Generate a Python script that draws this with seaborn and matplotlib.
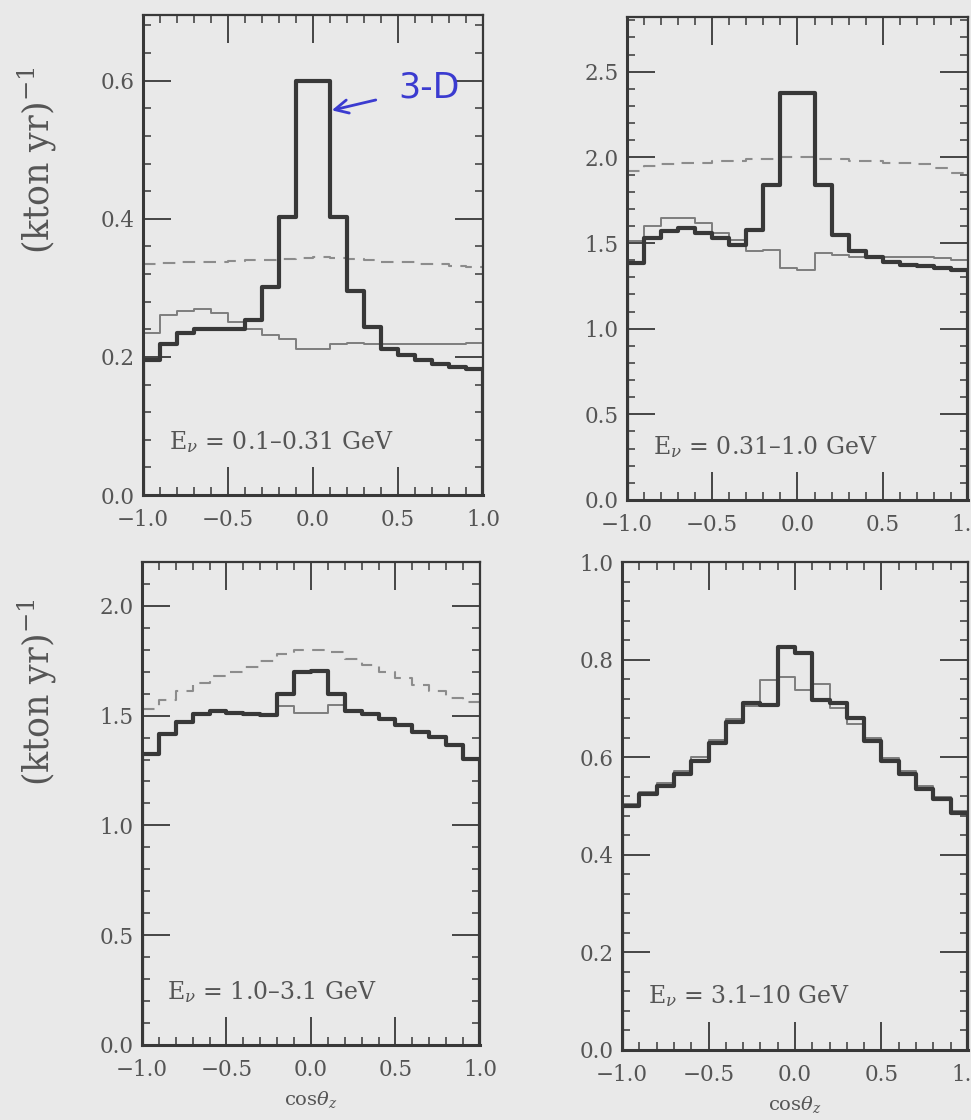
import numpy as np
import pandas as pd
import matplotlib
matplotlib.use("Agg")
import matplotlib.pyplot as plt
import seaborn as sns
from matplotlib.ticker import MultipleLocator, FuncFormatter

# ---------------- data (20 bins in cos theta_z from -1 to 1) ----------------
n_bins = 20
bin_edges = np.round(np.linspace(-1.0, 1.0, n_bins + 1), 2)
bin_centers = (bin_edges[:-1] + bin_edges[1:]) / 2

# Panel 1: E = 0.1-0.31 GeV
p1_thick = [0.196, 0.219, 0.234, 0.240, 0.240, 0.240, 0.253, 0.301, 0.402, 0.600,
            0.600, 0.402, 0.296, 0.244, 0.212, 0.203, 0.196, 0.190, 0.186, 0.183]
p1_thin = [0.234, 0.260, 0.267, 0.270, 0.264, 0.251, 0.240, 0.231, 0.226, 0.212,
           0.212, 0.219, 0.220, 0.219, 0.218, 0.218, 0.218, 0.219, 0.219, 0.220]
p1_dash = [0.334, 0.336, 0.337, 0.338, 0.338, 0.339, 0.340, 0.341, 0.342, 0.343,
           0.344, 0.343, 0.342, 0.340, 0.338, 0.337, 0.335, 0.334, 0.332, 0.330]

# Panel 2: E = 0.31-1.0 GeV
p2_thick = [1.383, 1.529, 1.568, 1.587, 1.558, 1.529, 1.490, 1.578, 1.840, 2.375,
            2.375, 1.840, 1.548, 1.451, 1.421, 1.392, 1.373, 1.363, 1.353, 1.344]
p2_thin = [1.509, 1.597, 1.646, 1.646, 1.617, 1.558, 1.519, 1.451, 1.460, 1.353,
           1.344, 1.441, 1.431, 1.421, 1.421, 1.421, 1.421, 1.421, 1.412, 1.402]
p2_dash = [1.92, 1.95, 1.96, 1.97, 1.97, 1.98, 1.98, 1.99, 1.99, 2.00,
           2.00, 1.99, 1.99, 1.98, 1.98, 1.97, 1.97, 1.96, 1.94, 1.91]

# Panel 3: E = 1.0-3.1 GeV
p3_thick = [1.326, 1.417, 1.470, 1.508, 1.520, 1.511, 1.508, 1.505, 1.598, 1.697,
            1.705, 1.598, 1.520, 1.508, 1.485, 1.455, 1.424, 1.402, 1.364, 1.303]
p3_thin = [1.330, 1.420, 1.475, 1.512, 1.524, 1.515, 1.512, 1.508, 1.545, 1.510,
           1.510, 1.550, 1.524, 1.512, 1.490, 1.460, 1.430, 1.408, 1.370, 1.308]
p3_dash = [1.53, 1.57, 1.61, 1.65, 1.68, 1.70, 1.72, 1.75, 1.78, 1.80,
           1.80, 1.79, 1.76, 1.73, 1.70, 1.67, 1.64, 1.61, 1.58, 1.56]

# Panel 4: E = 3.1-10 GeV
p4_thick = [0.500, 0.524, 0.541, 0.565, 0.592, 0.629, 0.673, 0.711, 0.707, 0.826,
            0.813, 0.718, 0.711, 0.680, 0.633, 0.592, 0.565, 0.534, 0.514, 0.486]
p4_thin = [0.505, 0.528, 0.548, 0.572, 0.600, 0.636, 0.678, 0.704, 0.759, 0.765,
           0.737, 0.750, 0.700, 0.668, 0.640, 0.598, 0.572, 0.540, 0.518, 0.490]

panel_labels = [r"E$_\nu$ = 0.1–0.31 GeV", r"E$_\nu$ = 0.31–1.0 GeV",
                r"E$_\nu$ = 1.0–3.1 GeV", r"E$_\nu$ = 3.1–10 GeV"]
y_label = r"(kton yr)$^{-1}$"
x_label = r"cos$\theta_z$"
xtick_values = [-1.0, -0.5, 0.0, 0.5, 1.0]

# ---------------- style ----------------
sns.set_theme(style="ticks")
plt.rcParams["font.family"] = ["DejaVu Serif", "DejaVu Sans"]
plt.rcParams["mathtext.fontset"] = "dejavuserif"
plt.rcParams["axes.unicode_minus"] = True

BG = "#e9e9e9"
INK = "#383838"
TXT = "#555555"
THIN = "#7e7e7e"
DASH = "#8c8c8c"

fig = plt.figure(figsize=(9.71, 11.2), dpi=100)
fig.patch.set_facecolor(BG)

positions = [
    [0.1473, 0.5580, 0.3502, 0.4286],
    [0.6457, 0.5536, 0.3512, 0.4313],
    [0.1462, 0.0670, 0.3481, 0.4313],
    [0.6406, 0.0625, 0.3563, 0.4357],
]
ylims = [0.695, 2.82, 2.2, 1.0]
ymajor = [0.2, 0.5, 0.5, 0.2]
yminor = [0.04, 0.1, 0.1, 0.04]

series = [
    (p1_thick, p1_thin, p1_dash),
    (p2_thick, p2_thin, p2_dash),
    (p3_thick, p3_thin, p3_dash),
    (p4_thick, p4_thin, None),
]

fmt = FuncFormatter(lambda v, p: f"{v:.1f}".replace("-", "\u2212"))


def step_hist(ax, values, **kws):
    df = pd.DataFrame({"cos": bin_centers, "w": np.asarray(values, dtype=float)})
    sns.histplot(data=df, x="cos", weights="w", bins=n_bins, binrange=(-1.0, 1.0),
                 element="step", fill=False, ax=ax, **kws)


axes = []
for i, pos in enumerate(positions):
    ax = fig.add_axes(pos)
    ax.set_facecolor(BG)
    thick, thin, dash = series[i]
    if dash is not None:
        step_hist(ax, dash, color=DASH, linewidth=1.5, linestyle=(0, (6, 4)))
    step_hist(ax, thin, color=THIN, linewidth=1.4)
    step_hist(ax, thick, color=INK, linewidth=3.0)
    # vertical drops of the thick histogram at both ends
    ax.vlines([bin_edges[0], bin_edges[-1]], 0, [thick[0], thick[-1]],
              color=INK, linewidth=3.0)

    ax.set_xlim(-1.0, 1.0)
    ax.set_ylim(0, ylims[i])
    ax.set_xticks(xtick_values)
    ax.xaxis.set_minor_locator(MultipleLocator(0.1))
    ax.yaxis.set_major_locator(MultipleLocator(ymajor[i]))
    ax.yaxis.set_minor_locator(MultipleLocator(yminor[i]))
    ax.xaxis.set_major_formatter(fmt)
    ax.yaxis.set_major_formatter(fmt)
    ax.tick_params(which="major", direction="in", length=20, width=1.3,
                   top=True, right=True, labelsize=15.5, labelcolor=TXT,
                   color=INK, pad=6)
    ax.tick_params(axis="x", which="major", pad=10)
    ax.tick_params(which="minor", direction="in", length=6, width=1.1,
                   top=True, right=True, color=INK)
    for side, sp in ax.spines.items():
        sp.set_visible(True)
        sp.set_color(INK)
        sp.set_linewidth(2.2 if side in ("left", "bottom") else 1.6)
    ax.set_xlabel("")
    ax.set_ylabel("")
    ax.text(0.075, 0.11, panel_labels[i], transform=ax.transAxes, fontsize=17,
            color=TXT, ha="left", va="center")
    axes.append(ax)

for ax in axes[2:]:
    ax.set_xlabel(x_label, fontsize=14, color=TXT, labelpad=6)

fig.text(0.039, 1 - 160 / 1120, y_label, rotation=90, fontsize=25, color=TXT,
         ha="center", va="center")
fig.text(0.039, 1 - 692 / 1120, y_label, rotation=90, fontsize=25, color=TXT,
         ha="center", va="center")

# handwritten annotation on the first panel
axes[0].annotate("3-D", xy=(0.11, 0.557), xytext=(0.68, 0.59),
                 fontsize=25, color="#3b3bd0", family="DejaVu Sans",
                 ha="center", va="center",
                 arrowprops=dict(arrowstyle="->", color="#3b3bd0", lw=2,
                                 shrinkA=14, shrinkB=0, mutation_scale=24))

fig.savefig("out.png", dpi=100, facecolor=BG)
